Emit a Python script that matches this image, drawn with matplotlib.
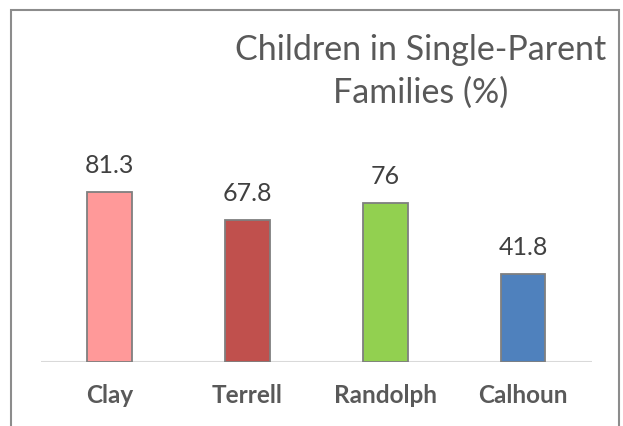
import matplotlib
matplotlib.use('Agg')
import matplotlib.pyplot as plt
from matplotlib.patches import Rectangle

plt.rcParams['font.family'] = ['Lato', 'DejaVu Sans']

# data
counties = ["Clay", "Terrell", "Randolph", "Calhoun"]
pct = [81.3, 67.8, 76, 41.8]
value_text = ["81.3", "67.8", "76", "41.8"]
bar_colors = ["#FF9999", "#C0504D", "#92D050", "#4F81BD"]

DPI = 100
W, H = 623, 426
PX = 72 / DPI  # points per pixel

fig = plt.figure(figsize=(W / DPI, H / DPI), dpi=DPI)

# outer chart border (bottom edge runs off the image)
fig.patches.append(Rectangle((11 / W, -0.1), 608 / W, 1.1 - 10 / H, transform=fig.transFigure,
                             fill=False, edgecolor='#8C8C8C', linewidth=1.5))

ax = fig.add_axes([40.7 / W, 64.3 / H, 551.3 / W, 208.7 / H])
x = range(len(counties))
ax.bar(x, pct, width=0.325, color=bar_colors, edgecolor='#7F7F7F', linewidth=1.3, zorder=3)
ax.set_xlim(-0.5, len(counties) - 0.5)
ax.set_ylim(0, 100)
ax.axis('off')
ax.axhline(0, color='#D9D9D9', linewidth=1.5, zorder=2)

for i, (v, t) in enumerate(zip(pct, value_text)):
    ax.annotate(t, (i, v), xytext=(0, 19 * PX), textcoords='offset points',
                ha='center', va='baseline', fontsize=18, color='#404040')
    ax.annotate(counties[i], (i, 0), xytext=(0, -41 * PX), textcoords='offset points',
                ha='center', va='baseline', fontsize=17.5, fontweight='bold', color='#595959')

# two-line title
fig.text(421 / W, 1 - 60 / H, "Children in Single-Parent", ha='center', va='baseline',
         fontsize=24.5, color='#595959')
fig.text(421 / W, 1 - 103 / H, "Families (%)", ha='center', va='baseline',
         fontsize=24.5, color='#595959')

fig.savefig('out.png', dpi=DPI)
